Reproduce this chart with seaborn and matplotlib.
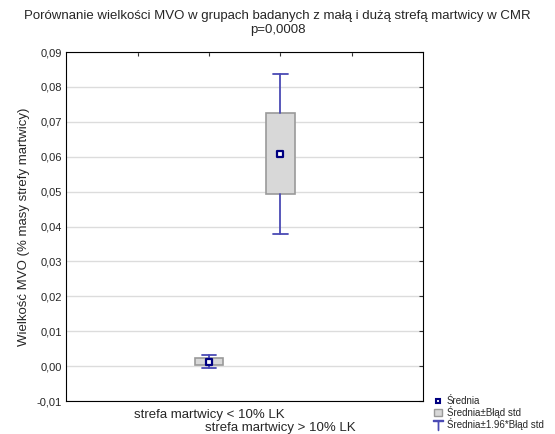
import numpy as np
import pandas as pd
import seaborn as sns
import matplotlib.pyplot as plt
from matplotlib.ticker import FuncFormatter, FixedLocator
from matplotlib.lines import Line2D
from matplotlib.patches import Patch

groups = ["strefa martwicy < 10% LK", "strefa martwicy > 10% LK"]
means = [0.0013, 0.0609]
std_err = [0.0010, 0.0117]

title = "Porównanie wielkości MVO w grupach badanych z małą i dużą strefą martwicy w CMR\np=0,0008"
ylabel = "Wielkość MVO (% masy strefy martwicy)"
legend_labels = ["Średnia", "Średnia±Błąd std", "Średnia±1.96*Błąd std"]

sns.set_style("white")
plt.rcParams['font.family'] = ['Liberation Sans', 'DejaVu Sans']

df = pd.DataFrame({"group": groups, "pos": [0, 1], "mean": means, "se": std_err})

fig = plt.figure(figsize=(5.55, 4.34), dpi=100)
ax = fig.add_axes([0.119, 0.076, 0.644, 0.804])

stats = []
for _, r in df.iterrows():
    stats.append(dict(med=r["mean"], q1=r["mean"] - r["se"], q3=r["mean"] + r["se"],
                      whislo=r["mean"] - 1.96 * r["se"], whishi=r["mean"] + 1.96 * r["se"],
                      fliers=[], label=r["group"]))

whisk_col = "#4a4ab4"
ax.bxp(stats, positions=df["pos"], widths=0.4, patch_artist=True, showfliers=False,
       boxprops=dict(facecolor="#d8d8d8", edgecolor="#9a9a9a", linewidth=1.2),
       medianprops=dict(linewidth=0),
       whiskerprops=dict(color=whisk_col, linewidth=1.3),
       capprops=dict(color=whisk_col, linewidth=1.3), capwidths=0.2, zorder=3)

sns.scatterplot(data=df, x="pos", y="mean", ax=ax, marker="s", s=16, color="white",
                edgecolor="#000080", linewidth=1.6, zorder=5, legend=False)

ax.set_xlim(-2, 3)
ax.set_ylim(-0.01, 0.09)
ax.set_yticks(np.arange(-0.01, 0.0901, 0.01))
ax.yaxis.set_major_formatter(FuncFormatter(lambda v, p: f"{v:.2f}".replace(".", ",").replace("-0,00", "0,00")))
ax.xaxis.set_major_locator(FixedLocator([-1, 0, 1, 2]))
ax.set_xticklabels(["", groups[0], groups[1], ""], fontsize=9.5)
ax.tick_params(axis="both", direction="in", length=3, width=0.8, top=True, right=True,
               color="#333333")
ax.tick_params(axis="y", labelsize=8, pad=3)
ax.tick_params(axis="x", pad=6)
# stagger the second category label one line lower
ax.get_xticklabels()[2].set_y(-0.036)
ax.yaxis.grid(True, color="#dcdcdc", linewidth=1)
ax.set_axisbelow(True)
for s in ax.spines.values():
    s.set_color("black")
    s.set_linewidth(0.8)

ax.set_xlabel("")
ax.set_ylabel(ylabel, fontsize=9.5, labelpad=5)
fig.suptitle(title, fontsize=9.5, y=0.978, linespacing=1.25)

handles = [
    Line2D([], [], marker="s", linestyle="none", markersize=3.5, markerfacecolor="white",
           markeredgecolor="#000080", markeredgewidth=1.5),
    Patch(facecolor="#d8d8d8", edgecolor="#9a9a9a"),
    Line2D([], [], marker="$\u22a4$", linestyle="none", markersize=7, color=whisk_col),
]
fig.legend(handles, legend_labels, loc="lower left", bbox_to_anchor=(0.775, 0.0),
           frameon=False, fontsize=7, handlelength=0.8, handletextpad=0.5,
           labelspacing=0.0, borderaxespad=0.2, borderpad=0.2)

fig.savefig("out.png", dpi=100)
